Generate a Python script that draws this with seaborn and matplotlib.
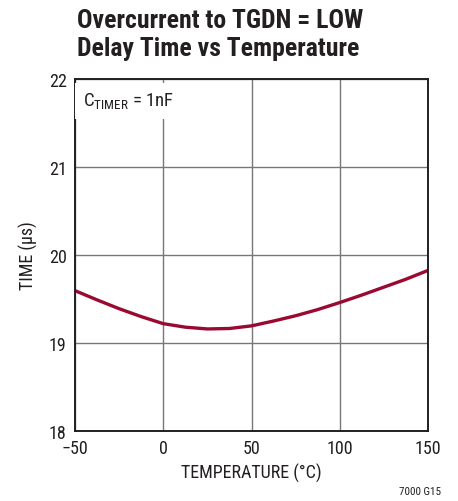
import pandas as pd
import matplotlib
matplotlib.use('Agg')
import matplotlib.pyplot as plt
import seaborn as sns

# delay time vs temperature
temp_c = [-50, -37.5, -25, -12.5, 0, 12.5, 25, 37.5, 50,
          62.5, 75, 87.5, 100, 112.5, 125, 137.5, 150]
delay_us = [19.595, 19.49, 19.39, 19.30, 19.22, 19.18, 19.16, 19.165, 19.195,
            19.25, 19.31, 19.38, 19.46, 19.545, 19.635, 19.725, 19.825]
x_ticks = [-50, 0, 50, 100, 150]
x_tick_labels = ['\u221250', '0', '50', '100', '150']
y_ticks = [18, 19, 20, 21, 22]

sns.set_style('white')
fonts = ['Roboto Condensed', 'Liberation Sans Narrow', 'Liberation Sans', 'DejaVu Sans']
plt.rcParams['font.family'] = fonts
plt.rcParams['mathtext.fontset'] = 'custom'
plt.rcParams['mathtext.rm'] = 'Roboto Condensed'
ink = '#231f20'

df = pd.DataFrame({'temp': temp_c, 'delay': delay_us})

fig = plt.figure(figsize=(4.58, 5.02), dpi=100)
ax = fig.add_axes([0.1638, 0.1394, 0.7707, 0.7012])

sns.lineplot(data=df, x='temp', y='delay', ax=ax, color='#9a0a30', lw=2.4)

ax.set_xlim(-50, 150)
ax.set_ylim(18, 22)
ax.set_xticks(x_ticks)
ax.set_yticks(y_ticks)
ax.set_xticklabels(x_tick_labels)
ax.grid(True, color='#777777', lw=1.0)
ax.set_axisbelow(True)
for s in ax.spines.values():
    s.set_color(ink)
    s.set_linewidth(1.4)
ax.tick_params(labelsize=13, length=0, pad=6, colors=ink)
ax.set_xlabel('TEMPERATURE (\u00b0C)', fontsize=13, color=ink, labelpad=4)
ax.set_ylabel('TIME (\u00b5s)', fontsize=13, color=ink, labelpad=8)

ax.text(-45.5, 21.75, r'C$_{\mathrm{TIMER}}$ = 1nF', fontsize=13.5, color=ink,
        va='center', ha='left',
        bbox=dict(facecolor='white', edgecolor='none', pad=6))

fig.text(0.168, 0.958, 'Overcurrent to TGDN = LOW', fontsize=18.5, weight='bold',
         color=ink, va='center')
fig.text(0.168, 0.902, 'Delay Time vs Temperature', fontsize=18.5, weight='bold',
         color=ink, va='center')
fig.text(0.963, 0.02, '7000 G15', fontsize=8, color=ink, ha='right', va='center')

fig.savefig('out.png', dpi=100)
